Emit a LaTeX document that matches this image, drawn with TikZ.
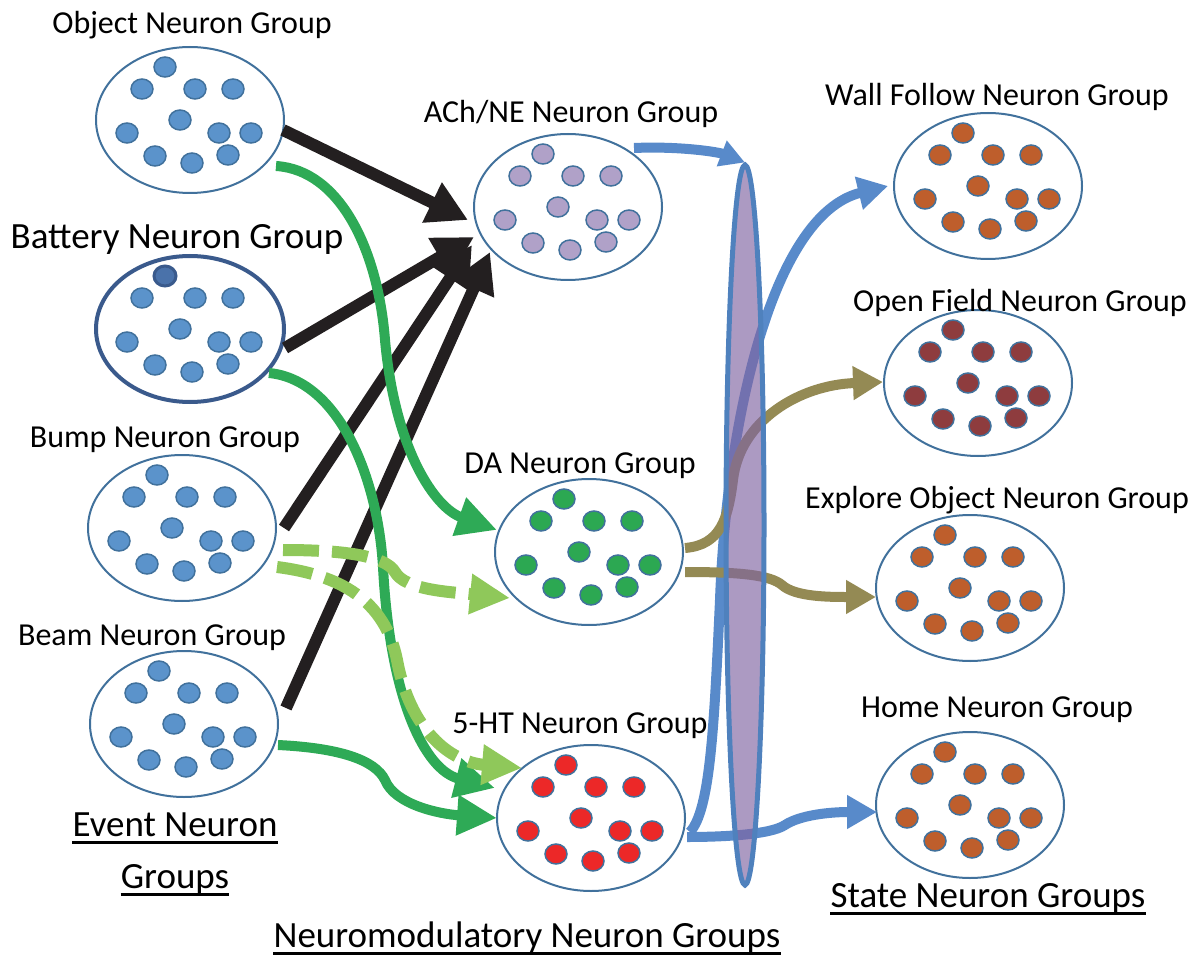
\documentclass[tikz,border=0pt]{standalone}
\usepackage{fontspec}
\setmainfont{Carlito}
\usetikzlibrary{shapes.geometric,arrows.meta}

\definecolor{grpline}{RGB}{65,113,156}
\definecolor{batline}{RGB}{58,90,140}
\definecolor{evdot}{RGB}{91,147,203}
\definecolor{achdot}{RGB}{176,161,200}
\definecolor{dadot}{RGB}{44,168,82}
\definecolor{htdot}{RGB}{236,40,40}
\definecolor{stdot}{RGB}{190,94,44}
\definecolor{opdot}{RGB}{142,60,62}
\definecolor{cblack}{RGB}{35,31,32}
\definecolor{cgreen}{RGB}{46,170,86}
\definecolor{clgreen}{RGB}{143,200,90}
\definecolor{cblue}{RGB}{88,138,202}
\definecolor{hubline}{RGB}{79,129,189}
\definecolor{hubfill}{RGB}{128,100,162}
\definecolor{colive}{RGB}{148,138,84}

\tikzset{
  grp/.style={ellipse,draw=grpline,line width=2pt,minimum width=188pt,minimum height=146pt,inner sep=0pt},
  hub/.style={ellipse,draw=hubline,line width=5pt,fill=hubfill,fill opacity=0.65,minimum width=38pt,minimum height=720pt,inner sep=0pt},
  neuron/.style={draw=grpline,line width=1.5pt},
  lbl/.style={inner sep=0pt,anchor=base,font=\fontsize{32}{38}\selectfont},
  biglbl/.style={inner sep=0pt,anchor=base,font=\fontsize{37}{44}\selectfont},
  uline/.style={line width=3pt},
  blackarr/.style={draw=cblack,line width=12pt,-{Triangle[length=40pt,width=42pt]}},
  greenarr/.style={draw=cgreen,line width=10pt,-{Triangle[length=40pt,width=38pt]}},
  dasharr/.style={draw=clgreen,line width=12pt,dash pattern=on 36pt off 13pt,-{Triangle[length=40pt,width=38pt]}},
  bluearr/.style={draw=cblue,line width=10pt,-{Triangle[length=30pt,width=32pt]}},
  olivearr/.style={draw=colive,line width=10pt,-{Triangle[length=30pt,width=32pt]}}
}

\newcommand\neurons[2]{%
  \foreach \dx/\dy in {-25/-53,-48/-31,5/-31,43/-31,-10/0,-63/13,29/13,61/13,-35/36,2/43,38/35}
    \draw[neuron,fill=#2] ([shift={(\dx,\dy)}]#1.center) ellipse (11 and 10);
}

\begin{document}
\begin{tikzpicture}[x=1pt,y=-1pt]
  \useasboundingbox (0,0) rectangle (1196,957);

  \node[grp] (obj) at (190,120) {};
  \node[grp,draw=batline,line width=4pt] (bat) at (190,329) {};
  \node[grp] (bump) at (182,528) {};
  \node[grp] (beam) at (184,724) {};
  \node[grp] (ach) at (568,207) {};
  \node[grp] (da) at (589,552) {};
  \node[grp] (ht) at (591,818) {};
  \node[grp] (wall) at (988,186) {};
  \node[grp] (open) at (978,383) {};
  \node[grp] (expl) at (970,588) {};
  \node[grp] (home) at (970,805) {};

  \neurons{obj}{evdot}
  \neurons{bat}{evdot}
  \neurons{bump}{evdot}
  \neurons{beam}{evdot}
  \neurons{ach}{achdot}
  \neurons{da}{dadot}
  \neurons{ht}{htdot}
  \neurons{wall}{stdot}
  \neurons{open}{opdot}
  \neurons{expl}{stdot}
  \neurons{home}{stdot}
  \draw[line width=3pt,draw=batline,fill={rgb,255:red,74;green,114;blue,170}] ([shift={(-25,-53)}]bat.center) ellipse (11 and 10);

  \node[lbl] (objlbl) at (192,34) {Object Neuron Group};
  \node[biglbl] (batlbl) at (177,249) {Battery Neuron Group};
  \node[lbl] (bumplbl) at (165,447) {Bump Neuron Group};
  \node[lbl] (beamlbl) at (152,645) {Beam Neuron Group};
  \node[biglbl] (evlbl) at (175,836) {Event Neuron};
  \node[biglbl] (evlblb) at (175,888) {Groups};
  \node[lbl] (achlbl) at (571,123) {ACh/NE Neuron Group};
  \node[lbl] (dalbl) at (580,473) {DA Neuron Group};
  \node[lbl] (htlbl) at (580,733) {5-HT Neuron Group};
  \node[biglbl] (modlbl) at (527,947) {Neuromodulatory Neuron Groups};
  \node[lbl] (walllbl) at (997,106) {Wall Follow Neuron Group};
  \node[lbl] (openlbl) at (1020,312) {Open Field Neuron Group};
  \node[lbl] (expllbl) at (997,508) {Explore Object Neuron Group};
  \node[lbl] (homelbl) at (997,717) {Home Neuron Group};
  \node[biglbl] (statelbl) at (988,907) {State Neuron Groups};
  \foreach \n in {evlbl,evlblb,modlbl,statelbl}
    \draw[uline] ([shift={(0,6)}]\n.base west) -- ([shift={(0,6)}]\n.base east);

  \draw[blackarr] ([shift={(93,10)}]obj.center) -- ([shift={(-100,13)}]ach.center);
  \draw[blackarr] ([shift={(95,19)}]bat.center) -- ([shift={(-94,30)}]ach.center);
  \draw[blackarr] ([shift={(102,0)}]bump.center) -- ([shift={(-96,38)}]ach.center);
  \draw[blackarr] ([shift={(102,-16)}]beam.center) -- ([shift={(-78,45)}]ach.center);

  \draw[greenarr] ([shift={(86,46)}]obj.center) .. controls (340,170) and (378,250) .. (385,340)
    .. controls (395,450) and (435,508) .. ([shift={(-92,-22)}]da.center);
  \draw[greenarr] ([shift={(79,44)}]bat.center) .. controls (340,380) and (378,480) .. (383,567)
    .. controls (390,700) and (425,770) .. ([shift={(-96,-30)}]ht.center);
  \draw[greenarr] ([shift={(94,21)}]beam.center) .. controls (340,748) and (375,760) .. (385,780)
    .. controls (395,805) and (440,814) .. ([shift={(-94,0)}]ht.center);

  \draw[dasharr] ([shift={(101,22)}]bump.center) .. controls (340,550) and (385,555) .. (395,572)
    .. controls (405,590) and (450,592) .. ([shift={(-79,46)}]da.center);
  \draw[dasharr] ([shift={(95,39)}]bump.center) .. controls (340,575) and (385,600) .. (397,660)
    .. controls (410,730) and (450,762) .. ([shift={(-69,-50)}]ht.center);

  \draw[bluearr] ([shift={(99,14)}]ht.center) .. controls (710,810) and (714,730) .. (720,600)
    .. controls (726,430) and (770,215) .. ([shift={(-100,0)}]wall.center);
  \draw[bluearr] ([shift={(96,19)}]ht.center) .. controls (720,837) and (770,835) .. (785,825)
    .. controls (800,815) and (830,812) .. ([shift={(-93,7)}]home.center);
  \draw[olivearr] ([shift={(96,-4)}]da.center) .. controls (720,545) and (728,520) .. (733,480)
    .. controls (740,420) and (800,385) .. ([shift={(-95,-1)}]open.center);
  \draw[olivearr] ([shift={(96,20)}]da.center) .. controls (740,572) and (770,575) .. (782,585)
    .. controls (795,597) and (830,597) .. ([shift={(-94,9)}]expl.center);

  \node[hub] (hub) at (745,525) {};
  \draw[bluearr,-{Triangle[length=25pt,width=26pt]}] ([shift={(66,-59)}]ach.center)
    .. controls (680,146) and (718,152) .. (hub.north);
\end{tikzpicture}
\end{document}
